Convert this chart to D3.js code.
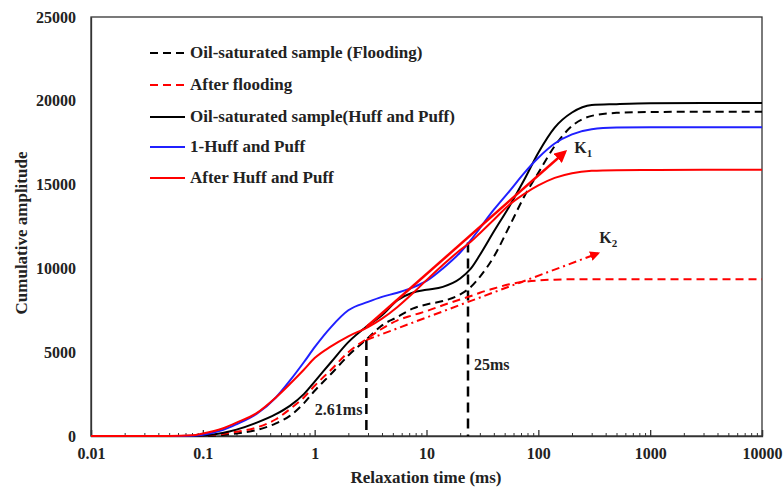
<!DOCTYPE html>
<html><head><meta charset="utf-8">
<script src="https://cdn.jsdelivr.net/npm/d3@7"></script>
<style>
body{margin:0;background:#fff;}
text{font-family:"Liberation Serif","Times New Roman",serif;font-weight:bold;fill:#222;}
</style></head>
<body><svg id="c" width="784" height="490"></svg>
<script>
const times = [0.01,0.05,0.08,0.1,0.15,0.2,0.3,0.45,0.6,0.8,1,1.4,2,3,4,5.5,7.5,10,14,20,25,30,40,55,75,100,140,200,300,500,1000,3000,10000];
const oilFlooding   = [0,0,0,0,60,150,350,750,1200,1950,2700,3700,4800,5850,6600,7100,7600,7850,8050,8450,8900,9500,10700,12500,14300,15700,17300,18500,19100,19280,19330,19350,19350];
const afterFlooding = [0,0,0,20,120,250,500,1000,1600,2300,3000,3950,5000,5850,6400,6900,7200,7450,7800,8150,8350,8550,8800,9050,9200,9280,9330,9350,9350,9350,9350,9350,9350];
const oilHuffPuff   = [0,0,0,30,180,380,780,1300,1800,2500,3250,4400,5600,6600,7200,8100,8550,8720,8900,9400,10000,10800,12200,13700,15300,16900,18400,19300,19750,19800,19850,19870,19870];
const huffPuff1     = [0,0,20,80,350,700,1300,2300,3300,4400,5300,6500,7500,8000,8300,8550,8850,9250,10000,10950,11700,12400,13500,14600,15700,16600,17450,18000,18300,18400,18420,18420,18420];
const afterHuffPuff = [0,0,40,150,450,800,1350,2300,3100,3950,4650,5350,5950,6500,7000,7700,8500,9300,10200,11100,11600,12100,12900,13800,14450,14950,15400,15680,15820,15860,15870,15880,15880];

const seriesNames = ["Oil-saturated sample (Flooding)","After flooding","Oil-saturated sample(Huff and Puff)","1-Huff and Puff","After Huff and Puff"];
const seriesValues = [oilFlooding, afterFlooding, oilHuffPuff, huffPuff1, afterHuffPuff];
const seriesColors = ["#000000","#ff0000","#000000","#2020ff","#ff0000"];
const seriesDash = ["8,5","8,5",null,null,null];

const xTicks = [0.01,0.1,1,10,100,1000,10000];
const xTickLabels = ["0.01","0.1","1","10","100","1000","10000"];
const yTicks = [0,5000,10000,15000,20000,25000];

// markers: vertical dashed lines
const markerTimes = [2.9, 23.5];
const markerTops = [5730, 11550];
const markerLabels = ["2.61ms","25ms"];
// arrows K1, K2 [t0, v0, t1, v1]
const k1 = [2.9, 6500, 174, 16960];
const k2 = [2.9, 5730, 343, 10900];

const svg = d3.select("#c");
const x = d3.scaleLog().domain([0.01,10000]).range([91,762]);
const y = d3.scaleLinear().domain([0,25000]).range([436,17]);

// frame
svg.append("rect").attr("x",91).attr("y",17).attr("width",671).attr("height",419)
  .attr("fill","none").attr("stroke","#333").attr("stroke-width",1.3);

// x axis major & minor ticks inward
const minor = [];
for (let d=0.01; d<10000; d*=10) for (let k=2;k<=9;k++) minor.push(d*k);
const gx = svg.append("g").attr("transform","translate(0,436)");
gx.call(d3.axisBottom(x).tickValues(minor).tickSize(-3).tickFormat(""));
gx.call(g=>g.select(".domain").remove());
gx.selectAll("line").attr("stroke","#333").attr("stroke-width",1);
const gx2 = svg.append("g").attr("transform","translate(0,436)");
gx2.call(d3.axisBottom(x).tickValues(xTicks).tickSize(-6).tickPadding(12).tickFormat((d,i)=>xTickLabels[i]));
gx2.select(".domain").attr("stroke","#333").attr("stroke-width",1.3);
gx2.selectAll("line").attr("stroke","#333").attr("stroke-width",1.3);
gx2.selectAll("text").style("font-size","16px").style("fill","#222").attr("font-family","Liberation Serif").attr("font-weight","bold");

const gy = svg.append("g").attr("transform","translate(91,0)");
gy.call(d3.axisLeft(y).tickValues(yTicks).tickSize(0).tickPadding(15).tickFormat(d3.format("d")));
gy.select(".domain").attr("stroke","#333").attr("stroke-width",1.3);
gy.selectAll("text").style("font-size","16px").style("fill","#222").attr("font-family","Liberation Serif").attr("font-weight","bold");

// axis titles
svg.append("text").attr("x",426).attr("y",483).attr("text-anchor","middle").style("font-size","17px").text("Relaxation time (ms)");
svg.append("text").attr("transform","translate(27,233) rotate(-90)").attr("text-anchor","middle").style("font-size","17px").text("Cumulative amplitude");

// defs arrowhead
svg.append("defs").append("marker").attr("id","ah").attr("viewBox","0 0 10 10").attr("refX",8).attr("refY",5)
  .attr("markerWidth",5).attr("markerHeight",5).attr("orient","auto").attr("markerUnits","strokeWidth")
  .append("path").attr("d","M0,0 L10,5 L0,10 z").attr("fill","#ff0000");

// vertical marker lines
markerTimes.forEach((t,i)=>{
  svg.append("line").attr("x1",x(t)).attr("x2",x(t)).attr("y1",y(markerTops[i])).attr("y2",y(0))
    .attr("stroke","#000").attr("stroke-width",2.5).attr("stroke-dasharray","10,6");
});
svg.append("text").attr("x",x(markerTimes[0])-4).attr("y",415).attr("text-anchor","end").style("font-size","16px").text(markerLabels[0]);
svg.append("text").attr("x",x(markerTimes[1])+6).attr("y",370).attr("text-anchor","start").style("font-size","16px").text(markerLabels[1]);

// curves
const line = d3.line().curve(d3.curveMonotoneX);
seriesValues.forEach((vals,i)=>{
  const pts = times.map((t,j)=>[x(t), y(vals[j])]);
  svg.append("path").attr("d",line(pts)).attr("fill","none").attr("stroke",seriesColors[i])
    .attr("stroke-width",2).attr("stroke-dasharray",seriesDash[i]);
});

// K arrows
svg.append("line").attr("x1",x(k1[0])).attr("y1",y(k1[1])).attr("x2",x(k1[2])).attr("y2",y(k1[3]))
  .attr("stroke","#ff0000").attr("stroke-width",2.5).attr("marker-end","url(#ah)");
svg.append("line").attr("x1",x(k2[0])).attr("y1",y(k2[1])).attr("x2",x(k2[2])).attr("y2",y(k2[3]))
  .attr("stroke","#ff0000").attr("stroke-width",2).attr("stroke-dasharray","8,4,2,4").attr("marker-end","url(#ah)");

const kt1 = svg.append("text").attr("x",x(k1[2])+9).attr("y",y(k1[3])+1).style("font-size","16px");
kt1.append("tspan").text("K");
kt1.append("tspan").attr("dy",4).style("font-size","11px").text("1");
const kt2 = svg.append("text").attr("x",x(k2[2])+1).attr("y",y(k2[3])-10).style("font-size","16px");
kt2.append("tspan").text("K");
kt2.append("tspan").attr("dy",4).style("font-size","11px").text("2");

// legend
const legY = [53,85,117,147,178];
seriesNames.forEach((n,i)=>{
  svg.append("line").attr("x1",150).attr("x2",185).attr("y1",legY[i]).attr("y2",legY[i])
    .attr("stroke",seriesColors[i]).attr("stroke-width",2).attr("stroke-dasharray",seriesDash[i]);
  svg.append("text").attr("x",190).attr("y",legY[i]+5).style("font-size","17px").text(n);
});
</script></body></html>
